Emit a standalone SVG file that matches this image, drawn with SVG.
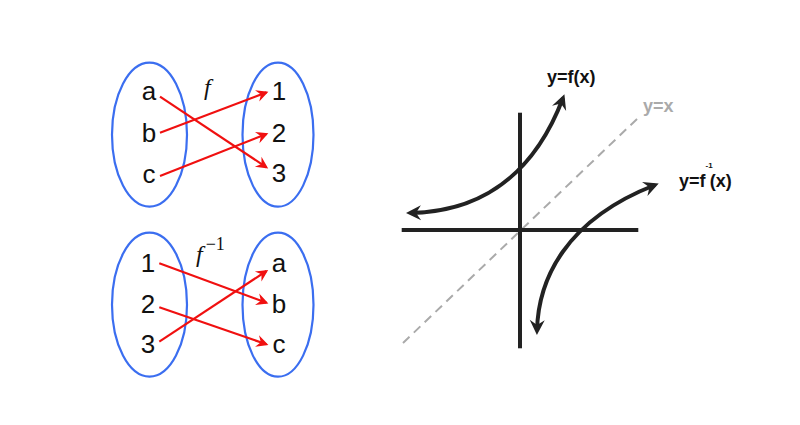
<svg xmlns="http://www.w3.org/2000/svg" width="800" height="425" viewBox="0 0 800 425">
<style>
.set{fill:none;stroke:#3b6ef0;stroke-width:2.2}
.lbl{font-family:"Liberation Sans",Arial,sans-serif;font-size:26px;fill:#111;text-anchor:middle}
.fn{font-family:"Liberation Serif","Times New Roman",serif;font-style:italic;font-size:24px;fill:#111}
.map{stroke:#f01010;stroke-width:2.2;fill:none;marker-end:url(#ra)}
.axis{stroke:#222;stroke-width:4;fill:none}
.curve{stroke:#222;stroke-width:4;fill:none;marker-end:url(#ka);marker-start:url(#ka)}
.glbl{font-family:"Liberation Sans",Arial,sans-serif;font-weight:bold;font-size:18px;fill:#111}
</style>
<defs>
<marker id="ra" markerUnits="userSpaceOnUse" viewBox="-12 -7 16 14" markerWidth="16" markerHeight="14" refX="0" refY="0" orient="auto">
<path d="M2,0 L-10,-6 L-6,0 L-10,6 Z" fill="#f01010"/>
</marker>
<marker id="ka" markerUnits="userSpaceOnUse" viewBox="-14 -9 20 18" markerWidth="20" markerHeight="18" refX="0" refY="0" orient="auto-start-reverse">
<path d="M4,0 L-11,-7.5 L-6,0 L-11,7.5 Z" fill="#222"/>
</marker>
</defs>
<rect width="800" height="425" fill="#fff"/>

<g id="f-domain">
<ellipse class="set" cx="149.5" cy="134.7" rx="37.5" ry="72"/>
<text class="lbl" x="149" y="100">a</text>
<text class="lbl" x="149" y="141.7">b</text>
<text class="lbl" x="149" y="183.3">c</text>
</g>
<g id="f-codomain">
<ellipse class="set" cx="278" cy="134.7" rx="35.5" ry="72"/>
<text class="lbl" x="279" y="100">1</text>
<text class="lbl" x="279" y="141.7">2</text>
<text class="lbl" x="279" y="181.7">3</text>
</g>
<g id="f-label"><text class="fn" x="204" y="95">f</text></g>

<g id="finv-domain">
<ellipse class="set" cx="149.5" cy="304.7" rx="37.5" ry="72"/>
<text class="lbl" x="148" y="271.7">1</text>
<text class="lbl" x="148" y="312.7">2</text>
<text class="lbl" x="148" y="353.3">3</text>
</g>
<g id="finv-codomain">
<ellipse class="set" cx="278" cy="304.7" rx="35.5" ry="72"/>
<text class="lbl" x="279" y="271.7">a</text>
<text class="lbl" x="279" y="312.7">b</text>
<text class="lbl" x="279" y="353.3">c</text>
</g>
<g id="finv-label"><text class="fn" x="196" y="262">f<tspan font-style="normal" font-size="18" dx="3" dy="-12">−1</tspan></text></g>

<g id="connectors">
<line class="map" x1="160" y1="96.7" x2="266.5" y2="167.3"/>
<line class="map" x1="160" y1="132.7" x2="266.5" y2="92.4"/>
<line class="map" x1="160" y1="176" x2="266.5" y2="134"/>
<line class="map" x1="159.3" y1="263.3" x2="266.5" y2="302.7"/>
<line class="map" x1="159.3" y1="307.3" x2="266.5" y2="344.3"/>
<line class="map" x1="159.3" y1="341.7" x2="266.5" y2="271"/>
</g>

<g id="graph">
<line x1="403" y1="343" x2="638" y2="118" stroke="#aaa" stroke-width="2" stroke-dasharray="9,6"/>
<line class="axis" x1="401.7" y1="230" x2="638.3" y2="230"/>
<line class="axis" x1="520" y1="112.7" x2="520" y2="348.3"/>
<path class="curve" d="M410,213 C470,212 530,185 563,98"/>
<path class="curve" d="M537,331 C538,280 565,220 655,185"/>
<text class="glbl" x="547" y="82.5">y=f(x)</text>
<text class="glbl" x="643" y="112" style="fill:#aaa">y=x</text>
<text class="glbl" x="679" y="187">y=f<tspan font-size="8" dx="0" dy="-19">-1</tspan><tspan dx="-3" dy="19">(x)</tspan></text>
</g>
</svg>
